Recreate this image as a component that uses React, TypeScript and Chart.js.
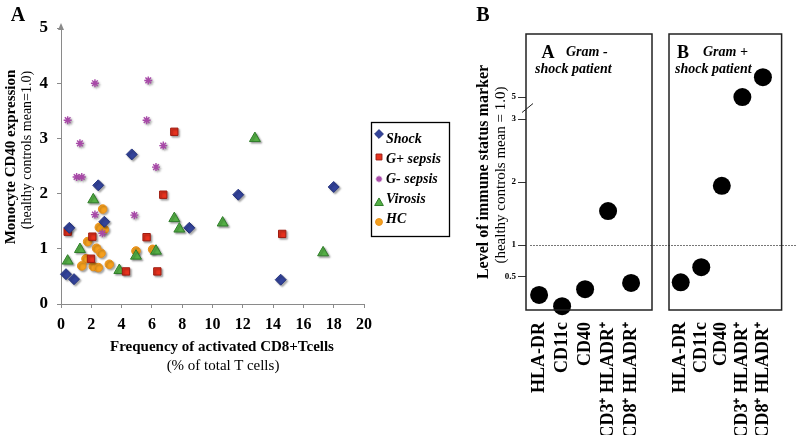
import React, { useEffect, useRef } from 'react';
import { Chart, registerables } from 'chart.js';

Chart.register(...registerables);

const SERIF = '"Liberation Serif", "Times New Roman", serif';

// ---------- Panel A data ----------
const seriesNames = ['Shock', 'G+ sepsis', 'G- sepsis', 'Virosis', 'HC'];
const shockX = [4.67, 2.46, 2.86, 0.55, 8.47, 0.33, 0.86, 11.7, 18.0, 14.5];
const shockY = [2.71, 2.15, 1.49, 1.38, 1.38, 0.54, 0.45, 1.98, 2.12, 0.44];
const gPosX = [7.48, 6.75, 0.44, 2.07, 5.65, 1.98, 4.29, 6.36, 14.6];
const gPosY = [3.12, 1.98, 1.31, 1.22, 1.21, 0.82, 0.59, 0.59, 1.27];
const gNegX = [2.24, 5.76, 0.44, 5.65, 1.25, 6.75, 6.27, 1.03, 1.37, 2.24, 4.84, 2.73];
const gNegY = [4.0, 4.05, 3.33, 3.33, 2.91, 2.87, 2.48, 2.3, 2.3, 1.62, 1.61, 1.28];
const viroX = [2.13, 7.48, 7.81, 1.25, 0.44, 4.95, 6.27, 3.85, 12.8, 10.67, 17.3];
const viroY = [1.89, 1.55, 1.36, 0.99, 0.78, 0.87, 0.96, 0.61, 3.0, 1.47, 0.93];
const hcX = [2.75, 1.76, 2.53, 2.86, 2.35, 2.64, 1.65, 4.95, 6.05, 1.37, 2.13, 2.46, 3.19];
const hcY = [1.72, 1.13, 1.39, 1.35, 1.01, 0.92, 0.82, 0.96, 0.99, 0.69, 0.68, 0.66, 0.72];
const xMin = 0;
const xMax = 20;
const xStep = 2;
const yMin = 0;
const yMax = 5;
const yStep = 1;

// ---------- Panel B data ----------
const markerNames = ['HLA-DR', 'CD11c', 'CD40', 'CD3\u207A HLADR\u207A', 'CD8\u207A HLADR\u207A'];
const gramNegLevels = [0.21, 0.03, 0.3, 1.54, 0.4];
const gramPosLevels = [0.41, 0.65, 1.94, 5.0, 6.8];
const levelTicks = [0.5, 1, 2, 3, 5];
const referenceLevel = 1;
const AXIS_BREAK = 3;
const BREAK_COMPRESSION = 0.175;
const toAxis = (v: number) => (v <= AXIS_BREAK ? v : AXIS_BREAK + (v - AXIS_BREAK) * BREAK_COMPRESSION);

// ---------- styles ----------
type MStyle = 'rectRot' | 'rect' | 'star' | 'triangle' | 'circle';
const seriesStyle: { style: MStyle; r: number; fill: string; stroke: string; bw: number }[] = [
  { style: 'rectRot', r: 5.5, fill: '#33439A', stroke: '#27357F', bw: 1 },
  { style: 'rect', r: 5.2, fill: '#E8321E', stroke: '#9E1B10', bw: 1 },
  { style: 'star', r: 4, fill: '#A849A8', stroke: '#A849A8', bw: 1.4 },
  { style: 'triangle', r: 6.3, fill: '#55B046', stroke: '#2F7D2A', bw: 1 },
  { style: 'circle', r: 4.3, fill: '#F5A01E', stroke: '#E8901A', bw: 1 },
];
const legendMarkerDy = [-5, -2, 0, 4, 3];

function drawMarker(ctx: CanvasRenderingContext2D, s: typeof seriesStyle[number], x: number, y: number) {
  const r = s.r;
  ctx.save();
  ctx.fillStyle = s.fill;
  ctx.strokeStyle = s.stroke;
  ctx.lineWidth = s.bw;
  ctx.beginPath();
  if (s.style === 'rectRot') {
    ctx.moveTo(x, y - r); ctx.lineTo(x + r, y); ctx.lineTo(x, y + r); ctx.lineTo(x - r, y); ctx.closePath();
    ctx.fill(); ctx.stroke();
  } else if (s.style === 'rect') {
    const h = r * Math.SQRT1_2;
    ctx.rect(x - h, y - h, 2 * h, 2 * h); ctx.fill(); ctx.stroke();
  } else if (s.style === 'triangle') {
    ctx.moveTo(x, y - r); ctx.lineTo(x + r * 0.866, y + r * 0.5); ctx.lineTo(x - r * 0.866, y + r * 0.5); ctx.closePath();
    ctx.fill(); ctx.stroke();
  } else if (s.style === 'circle') {
    ctx.arc(x, y, r, 0, Math.PI * 2); ctx.fill(); ctx.stroke();
  } else {
    for (let k = 0; k < 4; k++) {
      const a = (k * Math.PI) / 4;
      ctx.moveTo(x - Math.cos(a) * r, y - Math.sin(a) * r);
      ctx.lineTo(x + Math.cos(a) * r, y + Math.sin(a) * r);
    }
    ctx.stroke();
  }
  ctx.restore();
}

const AXIS_GRAY = '#8a8a8a';

function panelAConfig(): any {
  const xs = [shockX, gPosX, gNegX, viroX, hcX];
  const ys = [shockY, gPosY, gNegY, viroY, hcY];
  return {
    type: 'scatter',
    data: {
      datasets: seriesNames.map((name, i) => ({
        label: name,
        data: xs[i].map((x, j) => ({ x, y: ys[i][j] })),
        pointStyle: seriesStyle[i].style,
        pointRadius: seriesStyle[i].r,
        pointHoverRadius: seriesStyle[i].r,
        backgroundColor: seriesStyle[i].fill,
        borderColor: seriesStyle[i].stroke,
        borderWidth: seriesStyle[i].bw,
        clip: false,
      })),
    },
    options: {
      animation: false,
      responsive: false,
      maintainAspectRatio: false,
      events: [],
      layout: { padding: { left: 0, top: 28, right: 96, bottom: 0 } },
      plugins: { legend: { display: false }, tooltip: { enabled: false } },
      scales: {
        x: {
          type: 'linear',
          min: xMin,
          max: xMax,
          ticks: { stepSize: xStep, color: '#000', padding: 7, font: { family: SERIF, weight: 'bold', size: 16 } },
          grid: { drawOnChartArea: false, drawTicks: true, tickLength: 4, color: AXIS_GRAY },
          border: { color: AXIS_GRAY, width: 1 },
          afterFit: (s: any) => { s.height = 131; },
        },
        y: {
          type: 'linear',
          min: yMin,
          max: yMax,
          ticks: { stepSize: yStep, color: '#000', padding: 9, font: { family: SERIF, weight: 'bold', size: 17 } },
          grid: { drawOnChartArea: false, drawTicks: true, tickLength: 4, color: AXIS_GRAY },
          border: { color: AXIS_GRAY, width: 1 },
          afterFit: (s: any) => { s.width = 61; },
        },
      },
    },
    plugins: [
      {
        id: 'panelAExtras',
        beforeDatasetsDraw(chart: any) {
          const ctx = chart.ctx;
          ctx.save();
          ctx.shadowColor = 'rgba(0,0,0,0.35)';
          ctx.shadowBlur = 2;
          ctx.shadowOffsetX = 1.5;
          ctx.shadowOffsetY = 1.5;
        },
        afterDatasetsDraw(chart: any) {
          chart.ctx.restore();
        },
        afterDraw(chart: any) {
          const ctx = chart.ctx as CanvasRenderingContext2D;
          const ca = chart.chartArea;
          ctx.save();
          ctx.fillStyle = AXIS_GRAY;
          ctx.beginPath();
          ctx.moveTo(ca.left, ca.top - 5);
          ctx.lineTo(ca.left - 3, ca.top + 2);
          ctx.lineTo(ca.left + 3, ca.top + 2);
          ctx.closePath();
          ctx.fill();
          ctx.strokeStyle = '#000';
          ctx.lineWidth = 1.3;
          ctx.strokeRect(371.5, 122.5, 78, 114);
          ctx.font = `italic bold 14px ${SERIF}`;
          ctx.textBaseline = 'middle';
          ctx.textAlign = 'left';
          seriesNames.forEach((name, i) => {
            const y = 139 + i * 20;
            drawMarker(ctx, { ...seriesStyle[i], r: seriesStyle[i].r * 0.8 }, 379, y + legendMarkerDy[i]);
            ctx.fillStyle = '#000';
            ctx.fillText(name, 386, y);
          });
          ctx.restore();
        },
      },
    ],
  };
}

function panelBConfig(values: number[], showY: boolean, padL: number, padR: number, drawRef: boolean): any {
  return {
    type: 'scatter',
    data: {
      datasets: [
        {
          label: 'level',
          data: values.map((v, i) => ({ x: i, y: toAxis(v) })),
          pointStyle: 'circle',
          pointRadius: 9,
          pointHoverRadius: 9,
          backgroundColor: '#000',
          borderColor: '#000',
          borderWidth: 0,
          clip: false,
        },
      ],
    },
    options: {
      animation: false,
      responsive: false,
      maintainAspectRatio: false,
      events: [],
      layout: { padding: { left: padL, top: 34, right: padR, bottom: 0 } },
      plugins: { legend: { display: false }, tooltip: { enabled: false } },
      scales: {
        x: {
          type: 'linear',
          min: -0.57,
          max: 4.91,
          afterBuildTicks: (s: any) => { s.ticks = markerNames.map((_, i) => ({ value: i })); },
          ticks: {
            autoSkip: false,
            minRotation: 90,
            maxRotation: 90,
            padding: 12,
            color: '#000',
            font: { family: SERIF, weight: 'bold', size: 18 },
            callback: (_v: any, i: number) => markerNames[i],
          },
          grid: { display: false, drawTicks: false },
          border: { display: false },
          afterFit: (s: any) => { s.height = 125; },
        },
        y: {
          type: 'linear',
          display: true,
          min: -0.03,
          max: 4.35,
          afterBuildTicks: (s: any) => { s.ticks = levelTicks.map((v) => ({ value: toAxis(v) })); },
          ticks: {
            display: showY,
            padding: 2,
            color: '#000',
            font: { family: SERIF, weight: 'bold', size: 9 },
            callback: (_v: any, i: number) => String(levelTicks[i]),
          },
          grid: { display: showY, drawOnChartArea: false, drawTicks: true, tickLength: 8, color: '#333' },
          border: { display: false },
          afterFit: (s: any) => { s.width = showY ? 86 : 14; },
        },
      },
    },
    plugins: [
      {
        id: 'panelBExtras',
        beforeDatasetsDraw(chart: any) {
          if (!drawRef) return;
          const ctx = chart.ctx as CanvasRenderingContext2D;
          const ca = chart.chartArea;
          const y = Math.round(chart.scales.y.getPixelForValue(toAxis(referenceLevel))) + 0.5;
          ctx.save();
          ctx.strokeStyle = '#777';
          ctx.lineWidth = 1;
          ctx.setLineDash([2, 1]);
          ctx.beginPath();
          ctx.moveTo(ca.left + 4, y);
          ctx.lineTo(chart.width - 2, y);
          ctx.stroke();
          ctx.restore();
        },
        afterDraw(chart: any) {
          const ctx = chart.ctx as CanvasRenderingContext2D;
          const ca = chart.chartArea;
          ctx.save();
          ctx.strokeStyle = '#222';
          ctx.lineWidth = 1.5;
          ctx.strokeRect(ca.left, ca.top, ca.right - ca.left, ca.bottom - ca.top);
          if (showY) {
            const ys = chart.scales.y;
            const mid = (ys.getPixelForValue(toAxis(AXIS_BREAK)) + ys.getPixelForValue(toAxis(5))) / 2;
            ctx.lineWidth = 1;
            ctx.beginPath();
            ctx.moveTo(ca.left - 4, mid + 4.5);
            ctx.lineTo(ca.left + 7, mid - 4.5);
            ctx.stroke();
          }
          ctx.restore();
        },
      },
    ],
  };
}

type LabelProps = {
  x: number;
  y: number;
  text: string;
  size: number;
  bold?: boolean;
  italic?: boolean;
  rotate?: boolean;
  left?: boolean;
};

function Label({ x, y, text, size, bold, italic, rotate, left }: LabelProps) {
  const tf = rotate ? 'translate(-50%,-50%) rotate(-90deg)' : left ? 'translate(0,-50%)' : 'translate(-50%,-50%)';
  return (
    <div
      style={{
        position: 'absolute',
        left: x,
        top: y,
        transform: tf,
        whiteSpace: 'nowrap',
        fontFamily: SERIF,
        fontSize: size,
        lineHeight: `${size}px`,
        fontWeight: bold ? 'bold' : 'normal',
        fontStyle: italic ? 'italic' : 'normal',
        color: '#000',
      }}
    >
      {text}
    </div>
  );
}

export default function App() {
  const aRef = useRef<HTMLCanvasElement>(null);
  const b1Ref = useRef<HTMLCanvasElement>(null);
  const b2Ref = useRef<HTMLCanvasElement>(null);

  useEffect(() => {
    const charts: Chart[] = [];
    if (aRef.current) charts.push(new Chart(aRef.current, panelAConfig()));
    if (b1Ref.current) charts.push(new Chart(b1Ref.current, panelBConfig(gramNegLevels, true, 0, 146, true)));
    if (b2Ref.current) charts.push(new Chart(b2Ref.current, panelBConfig(gramPosLevels, false, 0, 2, false)));
    return () => charts.forEach((c) => c.destroy());
  }, []);

  const cv = (left: number, w: number): React.CSSProperties => ({
    position: 'absolute',
    left,
    top: 0,
    width: w,
    height: 435,
  });

  return (
    <div style={{ position: 'absolute', left: 0, top: 0, width: 798, height: 435, background: '#fff', overflow: 'hidden' }}>
      <canvas ref={aRef} width={460} height={435} style={cv(0, 460)} />
      <canvas ref={b1Ref} width={358} height={435} style={cv(440, 358)} />
      <canvas ref={b2Ref} width={143} height={435} style={cv(655, 143)} />

      <Label x={18} y={14} text="A" size={20} bold />
      <Label x={10} y={157} text="Monocyte CD40 expression" size={15} bold rotate />
      <Label x={27} y={150} text="(healthy controls mean=1.0)" size={14} rotate />
      <Label x={222} y={346} text="Frequency of activated CD8+Tcells" size={15} bold />
      <Label x={223} y={365} text="(% of total T cells)" size={15} />

      <Label x={483} y={14} text="B" size={20} bold />
      <Label x={483} y={172} text="Level of immune status marker" size={16} bold rotate />
      <Label x={500} y={175} text="(healthy controls mean = 1.0)" size={15} rotate />

      <Label x={548} y={52} text="A" size={18} bold />
      <Label x={566} y={52} text="Gram -" size={14} bold italic left />
      <Label x={535} y={69} text="shock patient" size={14} bold italic left />
      <Label x={683} y={52} text="B" size={18} bold />
      <Label x={703} y={52} text="Gram +" size={14} bold italic left />
      <Label x={675} y={69} text="shock patient" size={14} bold italic left />
    </div>
  );
}
